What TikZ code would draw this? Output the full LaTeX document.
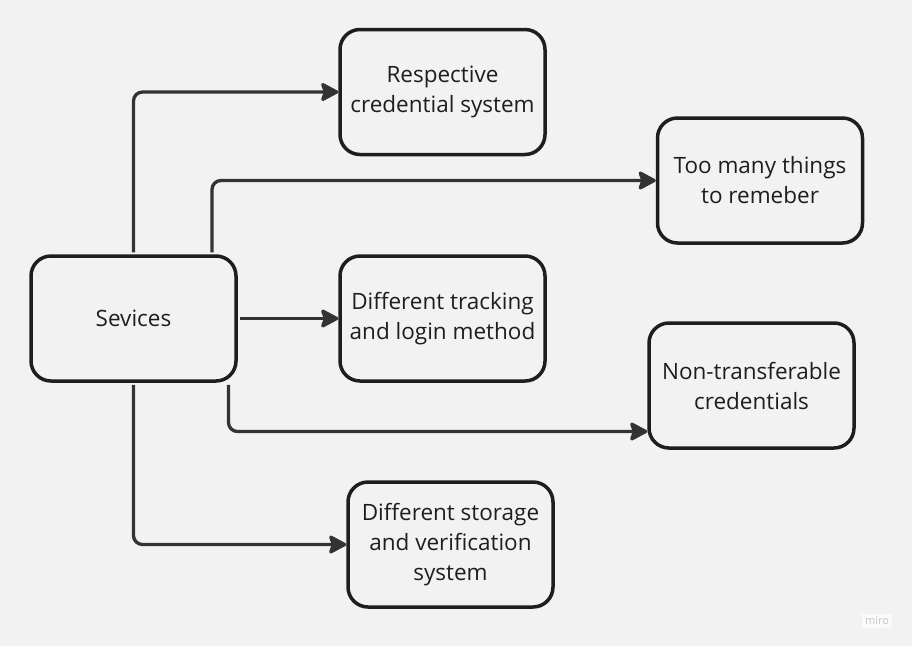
\documentclass[tikz,border=0pt]{standalone}
\usepackage{fontspec}
\setmainfont{Open Sans}
\usetikzlibrary{arrows.meta}
\definecolor{bg}{HTML}{F2F2F2}
\definecolor{boxline}{HTML}{1E1E1E}
\definecolor{conn}{HTML}{333333}
\definecolor{txt}{HTML}{1E1E1E}
\tikzset{
  box/.style={draw=boxline, line width=3.5pt, rounded corners=20pt,
    minimum width=205pt, minimum height=125pt, align=center,
    text=txt, font=\fontsize{22.5}{30}\selectfont, inner sep=0pt},
  conn/.style={draw=conn, line width=3.3pt, rounded corners=9pt,
    -{Stealth[length=20pt,width=21pt,inset=3.5pt,round]}, shorten <=2pt}
}
\begin{document}
\begin{tikzpicture}[x=1pt,y=-1pt]
\fill[bg] (0,0) rectangle (912,646);
\useasboundingbox (0,0) rectangle (912,646);
\node[box] (s)  at (133.5,318.5) {Sevices};
\node[box] (r1) at (442.5,92)    {Respective\\credential system};
\node[box] (r2) at (760,180.5)   {Too many things\\to remeber};
\node[box] (r3) at (442.5,318.5) {Different tracking\\and login method};
\node[box] (r4) at (751.5,385.5) {Non-transferable\\credentials};
\node[box] (r5) at (450.5,544.5) {Different storage\\and verification\\system};
\coordinate (a2) at ([xshift=78.5pt]s.north);
\coordinate (a4) at ([xshift=95pt]s.south);
\coordinate (t4) at ([yshift=-46pt]r4.west);
\draw[conn] (s.north) |- (r1.west);
\draw[conn] (a2) |- (r2.west);
\draw[conn] (s.east) -- (r3.west);
\draw[conn] (a4) |- (t4);
\draw[conn] (s.south) |- (r5.west);
\node[fill=white!60!bg, text=black!22, font=\fontsize{11}{12}\selectfont, inner sep=3pt] (m) at (877,621) {miro};
\end{tikzpicture}
\end{document}
